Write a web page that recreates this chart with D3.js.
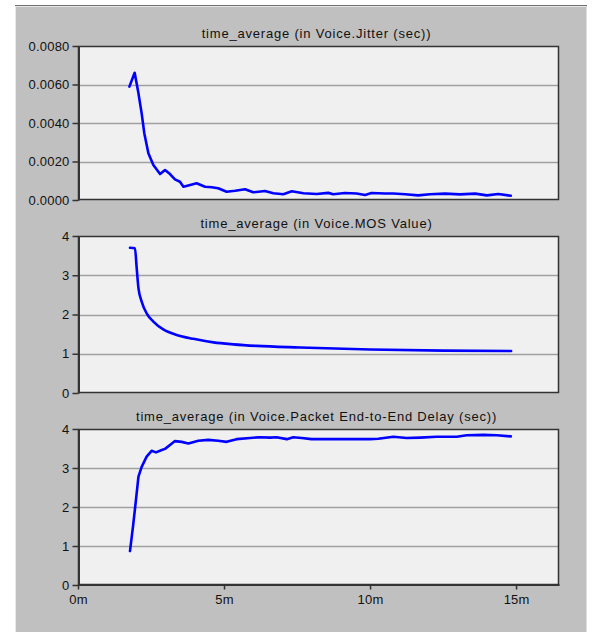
<!DOCTYPE html>
<html>
<head>
<meta charset="utf-8">
<script src="https://cdn.jsdelivr.net/npm/d3@7"></script>
<style>
  body { margin: 0; background: #fff; }
  svg { display: block; }
</style>
</head>
<body>
<svg id="chart" width="596" height="632"></svg>
<script>
// minutes on x
const jitterT = [1.76, 1.94, 2.07, 2.18, 2.27, 2.41, 2.58, 2.81, 2.98, 3.15, 3.32, 3.49, 3.61, 3.84, 4.06, 4.35, 4.58, 4.80, 5.09, 5.38, 5.72, 6.0, 6.40, 6.69, 7.03, 7.32, 7.72, 8.17, 8.57, 8.74, 9.14, 9.54, 9.83, 10.05, 10.51, 10.8, 11.2, 11.65, 12.05, 12.57, 13.08, 13.6, 14.0, 14.39, 14.82];
const jitterV = [0.00589, 0.00661, 0.00554, 0.0045, 0.00347, 0.00243, 0.00182, 0.00135, 0.00156, 0.00135, 0.00107, 0.00095, 0.00069, 0.00078, 0.00087, 0.00069, 0.00066, 0.00061, 0.00043, 0.00048, 0.00056, 0.0004, 0.00047, 0.00035, 0.0003, 0.00045, 0.00035, 0.00031, 0.00037, 0.0003, 0.00036, 0.00034, 0.00026, 0.00036, 0.00034, 0.00034, 0.0003, 0.00024, 0.0003, 0.00033, 0.00029, 0.00033, 0.00024, 0.00031, 0.00022];

const mosT = [1.78, 1.95, 2.01, 2.07, 2.18, 2.35, 2.58, 2.92, 3.38, 3.95, 4.64, 5.32, 6.12, 7.6, 10.0, 12.5, 14.83];
const mosV = [3.70, 3.69, 3.18, 2.67, 2.33, 2.03, 1.82, 1.62, 1.48, 1.38, 1.29, 1.24, 1.20, 1.16, 1.11, 1.08, 1.07];

const delayT = [1.78, 1.89, 1.99, 2.07, 2.18, 2.35, 2.52, 2.67, 2.87, 2.98, 3.15, 3.32, 3.55, 3.78, 4.12, 4.46, 4.80, 5.09, 5.43, 5.89, 6.23, 6.58, 6.8, 7.15, 7.37, 7.66, 8.0, 8.63, 9.32, 10.0, 10.28, 10.8, 11.25, 11.71, 12.28, 12.97, 13.31, 13.88, 14.34, 14.82];
const delayV = [0.87, 1.54, 2.22, 2.78, 3.03, 3.29, 3.44, 3.40, 3.46, 3.49, 3.59, 3.69, 3.67, 3.63, 3.70, 3.72, 3.70, 3.67, 3.74, 3.77, 3.79, 3.78, 3.79, 3.74, 3.79, 3.77, 3.74, 3.74, 3.74, 3.74, 3.75, 3.80, 3.77, 3.78, 3.80, 3.80, 3.84, 3.85, 3.84, 3.81];

const titles = [
  "time_average (in Voice.Jitter (sec))",
  "time_average (in Voice.MOS Value)",
  "time_average (in Voice.Packet End-to-End Delay (sec))"
];
const jitterTicks = [0, 0.002, 0.004, 0.006, 0.008];
const countTicks = [0, 1, 2, 3, 4];
const timeTicks = [0, 5, 10, 15];

const svg = d3.select("#chart");
const font = "'Liberation Sans', Arial, sans-serif";

// window frame
svg.append("rect").attr("x", 15).attr("y", 5).attr("width", 572).attr("height", 627)
  .attr("fill", "#c0c0c0");
svg.append("line").attr("x1", 15).attr("x2", 587).attr("y1", 5.5).attr("y2", 5.5)
  .attr("stroke", "#6f6f6f");
svg.append("line").attr("x1", 15).attr("x2", 587).attr("y1", 6.5).attr("y2", 6.5)
  .attr("stroke", "#e8e8e8");
svg.append("line").attr("x1", 15.5).attr("x2", 15.5).attr("y1", 6).attr("y2", 632)
  .attr("stroke", "#e8e8e8");
svg.append("line").attr("x1", 586.5).attr("x2", 586.5).attr("y1", 6).attr("y2", 632)
  .attr("stroke", "#dcdcdc");

const x = d3.scaleLinear().domain([0, 16.47]).range([78, 559]);

const panels = [
  { t: jitterT, v: jitterV, ticks: jitterTicks, max: 0.008, top: 46, bottom: 200, fmt: d3.format(".4f"), curve: d3.curveLinear },
  { t: mosT, v: mosV, ticks: countTicks, max: 4, top: 236, bottom: 393, fmt: d3.format("d"), curve: d3.curveMonotoneX },
  { t: delayT, v: delayV, ticks: countTicks, max: 4, top: 429, bottom: 585, fmt: d3.format("d"), curve: d3.curveLinear }
];

function styleText(sel) {
  sel.style("font", `13px ${font}`).style("letter-spacing", "0.2px").attr("fill", "#111");
}

panels.forEach((p, i) => {
  const y = d3.scaleLinear().domain([0, p.max]).range([p.bottom, p.top]);
  const g = svg.append("g");

  g.append("rect")
    .attr("x", 78).attr("y", p.top)
    .attr("width", 559 - 78).attr("height", p.bottom - p.top)
    .attr("fill", "#f0f0f0");

  // grid
  g.selectAll(".grid")
    .data(p.ticks.slice(1, -1))
    .join("line")
    .attr("x1", 78).attr("x2", 559)
    .attr("y1", d => Math.round(y(d)) + 0.5)
    .attr("y2", d => Math.round(y(d)) + 0.5)
    .attr("stroke", "#a0a0a0")
    .attr("stroke-width", 1.5);

  // frame
  g.append("rect")
    .attr("x", 78.5).attr("y", p.top + 0.5)
    .attr("width", 559 - 79).attr("height", p.bottom - p.top - 1)
    .attr("fill", "none")
    .attr("stroke", "#333")
    .attr("stroke-width", 1.5);

  // y axis
  const ya = g.append("g")
    .attr("transform", "translate(78.5,0)")
    .call(d3.axisLeft(y).tickValues(p.ticks).tickFormat(p.fmt)
      .tickSizeInner(6).tickSizeOuter(0).tickPadding(3));
  ya.select(".domain").attr("stroke", "#333").attr("stroke-width", 2);
  ya.selectAll(".tick line").attr("stroke", "#333").attr("stroke-width", 1.5);
  ya.selectAll("text").call(styleText);

  // title
  g.append("text")
    .attr("x", (78 + 559) / 2 - 2)
    .attr("y", p.top - 8)
    .attr("text-anchor", "middle")
    .style("font", `13px ${font}`)
    .style("letter-spacing", "0.8px")
    .attr("fill", "#111")
    .text(titles[i]);

  // line
  const pts = p.t.map((t, k) => [t, p.v[k]]);
  g.append("path")
    .datum(pts)
    .attr("fill", "none")
    .attr("stroke", "#0000ff")
    .attr("stroke-width", 2.6)
    .attr("stroke-linejoin", "round")
    .attr("stroke-linecap", "round")
    .attr("d", d3.line().curve(p.curve).x(d => x(d[0])).y(d => y(d[1])));

  if (i === 2) {
    const xa = g.append("g")
      .attr("transform", `translate(0,${p.bottom - 0.5})`)
      .call(d3.axisBottom(x).tickValues(timeTicks).tickFormat(d => d + "m")
        .tickSizeInner(5).tickSizeOuter(0).tickPadding(5));
    xa.select(".domain").attr("stroke", "#333").attr("stroke-width", 2);
    xa.selectAll(".tick line").attr("stroke", "#333").attr("stroke-width", 1.5);
    xa.selectAll("text").call(styleText);
  }
});
</script>
</body>
</html>
